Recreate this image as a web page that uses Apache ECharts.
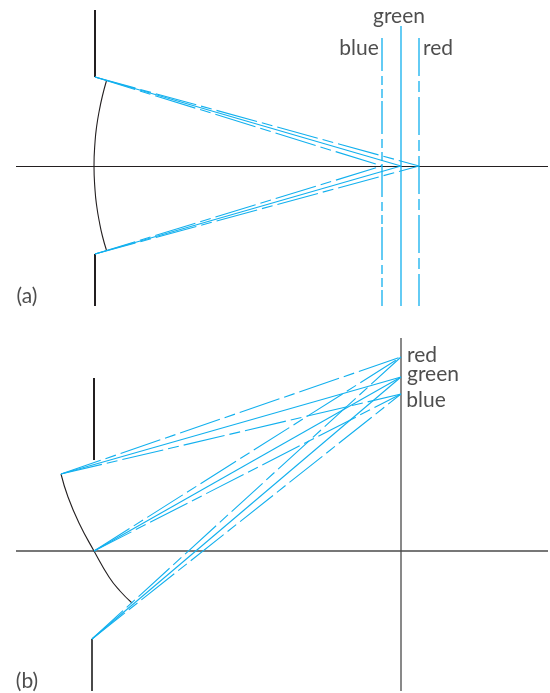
<!DOCTYPE html>
<html><head><meta charset="utf-8">
<style>html,body{margin:0;padding:0;background:#fff}#c{width:550px;height:693px}</style>
<script src="https://cdn.jsdelivr.net/npm/echarts@6/dist/echarts.min.js"></script>
</head><body><div id="c"></div>
<script>
// Diagram space: x 0..550, y 0..693 (downward)
const axisA = [[16,166.5],[548,166.5]];
const axisB = [[16,551],[548,551]];
const planeB = [[401,338],[401,691]];
const slitA1 = [[95,10],[95,77]];
const slitA2 = [[95,254],[95,306]];
const slitB1 = [[94,378],[94,460]];
const slitB2 = [[92,639],[92,691]];
const arcA = [[106.4,81],[102.4,96],[99.2,111],[96.7,126],[95.1,141],[94,166],[95.1,191],[96.7,206],[99.2,221],[102.4,236],[106.4,250]];
const arcB = [[61,474],[68,497],[79,523],[94,551],[109,577],[120,591],[132,603]];
const planeBlue = [[382,38],[382,306]];
const planeGreen = [[401,26],[401,306]];
const planeRed = [[419,38],[419,306]];
const sourcesA = [[95,77],[95,254]];
const focusA = {blue:[382,166],green:[401,166],red:[419,166]};
const sourcesB = [[61,474],[94,551],[92,639]];
const focusB = {red:[401,357],green:[401,377],blue:[401,394]};
const labels = [
  ['green',399,16],['blue',359,48],['red',438,48],['(a)',27,296],
  ['red',422,355],['green',433,374],['blue',426,400],['(b)',27,681]
];
const BLACK='#231f20', GREY='#4a4a4a', CYAN='#12b0ee';
const DASH_RED=[38,5,11,5], DASH_BLUE=[33,5,9,4,9,3], DASH_RAY=[42,5,11,5];
function line(data,color,width,dash){
  return {type:'line',data,coordinateSystem:'cartesian2d',symbol:'none',silent:true,animation:false,
    clip:false,lineStyle:{color,width,type:dash||'solid'}};
}
const series=[
  line(axisA,BLACK,1.2),line(axisB,GREY,1.3),line(planeB,GREY,1.3),
  line(slitA1,BLACK,2),line(slitA2,BLACK,2),line(slitB1,BLACK,2),line(slitB2,GREY,2),
  Object.assign(line(arcA,BLACK,1.1),{smooth:true}),
  Object.assign(line(arcB,BLACK,1.1),{smooth:true}),
  line(planeBlue,CYAN,1.3,DASH_BLUE),line(planeGreen,CYAN,1.3),line(planeRed,CYAN,1.3,DASH_RED)
];
sourcesA.forEach(s=>{
  series.push(line([s,focusA.blue],CYAN,1.1,DASH_RAY));
  series.push(line([s,focusA.green],CYAN,1.1));
  series.push(line([s,focusA.red],CYAN,1.1,DASH_RAY));
});
sourcesB.forEach(s=>{
  series.push(line([s,focusB.red],CYAN,1.1,DASH_RAY));
  series.push(line([s,focusB.green],CYAN,1.1));
  series.push(line([s,focusB.blue],CYAN,1.1,DASH_RAY));
});
series.push({type:'scatter',symbolSize:0,silent:true,animation:false,
  data:labels.map(l=>({value:[l[1],l[2]],label:{show:true,position:'inside',formatter:l[0],
    fontFamily:'Lato,"Liberation Sans",sans-serif',fontSize:21,color:'#222222'}}))});
const chart=echarts.init(document.getElementById('c'),null,{renderer:'canvas'});
chart.setOption({animation:false,
  grid:{left:0,right:0,top:0,bottom:0},
  xAxis:{type:'value',min:0,max:550,show:false},
  yAxis:{type:'value',min:0,max:693,inverse:true,show:false},
  series});
</script></body></html>
